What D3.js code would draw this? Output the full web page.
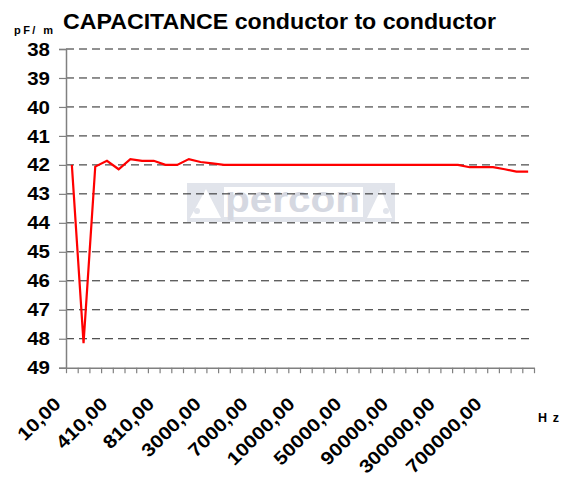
<!DOCTYPE html>
<html><head><meta charset="utf-8">
<script src="https://cdn.jsdelivr.net/npm/d3@7"></script>
<style>
html,body{margin:0;padding:0;background:#fff;}
svg{display:block;font-family:"Liberation Sans",Arial,sans-serif;}
</style></head>
<body>
<svg id="chart" width="566" height="477"></svg>
<script>
// ---- data ----
const frequencies = [10,110,210,310,410,510,610,710,810,910,
  1000,2000,3000,4000,5000,6000,7000,8000,9000,9500,
  10000,20000,30000,40000,50000,60000,70000,80000,90000,100000,
  200000,250000,300000,400000,500000,600000,700000,800000,900000,1000000];
const capacitance = [42.0,48.15,42.06,41.86,42.15,41.8,41.86,41.86,42.0,42.0,
  41.8,41.9,41.95,42.0,42.0,42.0,42.0,42.0,42.0,42.0,
  42.0,42.0,42.0,42.0,42.0,42.0,42.0,42.0,42.0,42.0,
  42.0,42.0,42.0,42.0,42.08,42.08,42.08,42.15,42.23,42.23];
const yTicks = [38,39,40,41,42,43,44,45,46,47,48,49];
const labelEvery = 4;
const titleText = "CAPACITANCE conductor to conductor";
const yUnit = "pF/ m";
const xUnit = "Hz";

const svg = d3.select("#chart");
const pLeft = 66, pRight = 534, pTop = 49, pBottom = 367.7;
const n = frequencies.length;
const x = d3.scaleLinear().domain([0, n]).range([pLeft, pRight]);
const y = d3.scaleLinear().domain([38, 49]).range([pTop, pBottom]);
const fmt = v => v.toFixed(2).replace(".", ",");

// watermark
const wm = svg.append("g");
const wc = "#e1e4eb";
wm.append("rect").attr("x",187).attr("y",183).attr("width",208).attr("height",4).attr("fill",wc);
wm.append("rect").attr("x",222).attr("y",217).attr("width",142).attr("height",5).attr("fill",wc);
wm.append("path").attr("d","M187,183 L224,183 L224,222 L187,222 Z").attr("fill",wc);
wm.append("path").attr("d","M206,189 L221,218 L190,218 Z").attr("fill","#fff");
wm.append("circle").attr("cx",197).attr("cy",211).attr("r",3).attr("fill",wc);
wm.append("path").attr("d","M363,183 L395,183 L395,222 L363,222 Z").attr("fill",wc);
wm.append("path").attr("d","M381,189 L367,218 L392,218 Z").attr("fill","#fff");
wm.append("circle").attr("cx",386).attr("cy",211).attr("r",3).attr("fill",wc);
wm.append("text").attr("x",225).attr("y",212).attr("font-size",36).attr("font-weight","bold")
  .attr("fill","#d5d8e1").attr("textLength",135).attr("lengthAdjust","spacingAndGlyphs").text("percon");

// gridlines
svg.append("g").selectAll("line").data(yTicks.slice(0, -1)).join("line")
  .attr("x1", pLeft).attr("x2", pRight)
  .attr("y1", d => y(d)).attr("y2", d => y(d))
  .attr("stroke", "#222").attr("stroke-width", 1).attr("stroke-dasharray", "8,5");

// y axis
const yAxis = svg.append("g").attr("transform", `translate(${pLeft},0)`)
  .call(d3.axisLeft(y).tickValues(yTicks).tickSize(7).tickFormat(""));
yAxis.select(".domain").attr("stroke", "#808080").attr("stroke-width", 1.5);
yAxis.selectAll(".tick line").attr("stroke", "#808080").attr("stroke-width", 1.2);
svg.append("g").selectAll("text").data(yTicks).join("text")
  .attr("transform", d => `translate(50,${y(d) + 6.6}) scale(1.1,1)`)
  .attr("text-anchor", "end").attr("font-size", 18.6).attr("font-weight", "bold")
  .attr("fill", "#000").text(d => d);

// x axis
const xAxis = svg.append("g").attr("transform", `translate(0,${pBottom})`)
  .call(d3.axisBottom(x).tickValues(d3.range(n + 1)).tickSize(5.5).tickFormat("").tickSizeOuter(0));
xAxis.select(".domain").attr("stroke", "#808080").attr("stroke-width", 1.5);
xAxis.selectAll(".tick line").attr("stroke", "#808080").attr("stroke-width", 1.2);
svg.append("g").selectAll("text")
  .data(frequencies.map((f, i) => ({f, i})).filter(d => d.i % labelEvery === 0))
  .join("text")
  .attr("transform", d => `translate(${x(d.i + 0.5) - 10},405) rotate(-45) scale(1.12,1)`)
  .attr("text-anchor", "end").attr("font-size", 18.6).attr("font-weight", "bold")
  .attr("fill", "#000").text(d => fmt(d.f));

// line
const line = d3.line().x((d, i) => x(i + 0.5)).y(d => y(d));
svg.append("path").datum(capacitance).attr("d", line)
  .attr("fill", "none").attr("stroke", "#ff0000").attr("stroke-width", 2.2)
  .attr("stroke-linejoin", "miter");

// titles
svg.append("text").attr("x", 63).attr("y", 29).attr("font-size", 21.6).attr("font-weight", "bold")
  .attr("textLength", 433).attr("lengthAdjust", "spacingAndGlyphs").text(titleText);
svg.append("text").attr("x", 14).attr("y", 34).attr("font-size", 11).attr("font-weight", "bold")
  .attr("textLength", 39).attr("lengthAdjust", "spacing").text(yUnit);
svg.append("text").attr("x", 538).attr("y", 422).attr("font-size", 12.5).attr("font-weight", "bold")
  .attr("textLength", 21).attr("lengthAdjust", "spacing").text(xUnit);
</script>
</body></html>
